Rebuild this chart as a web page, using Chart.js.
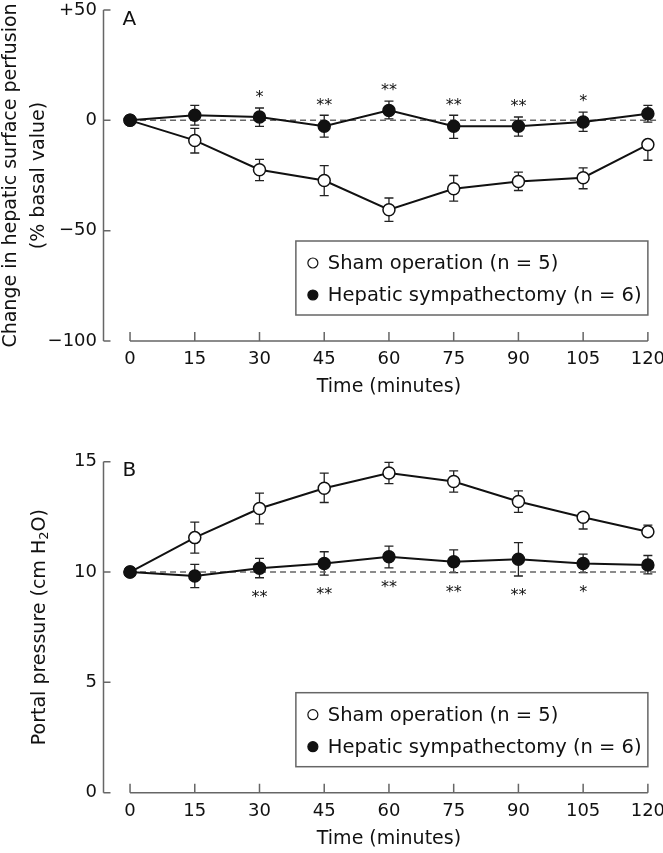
<!DOCTYPE html>
<html>
<head>
<meta charset="utf-8">
<script src="https://cdn.jsdelivr.net/npm/chart.js@4.4.1/dist/chart.umd.min.js"></script>
<style>
  html, body { margin: 0; padding: 0; background: #fff; }
  .panel { position: absolute; left: 0; width: 663px; }
  #wrapA { top: 0; height: 420px; }
  #wrapB { top: 420px; height: 433px; }
</style>
</head>
<body>
<div id="wrapA" class="panel"><canvas id="chartA"></canvas></div>
<div id="wrapB" class="panel"><canvas id="chartB"></canvas></div>
<script>
// time points (minutes)
const times = [0, 15, 30, 45, 60, 75, 90, 105, 120];

// Panel A: change in hepatic surface perfusion (% basal value)
const shamPerfusion         = [0, -9.1, -22.4, -27.3, -40.5, -31.0, -27.7, -26.0, -11.0];
const shamPerfusionErrUp    = [0,  5.5,   4.7,   6.8,   5.3,   6.0,   4.2,   4.5,   0];
const shamPerfusionErrDown  = [0,  5.7,   4.9,   6.8,   5.3,   5.6,   4.1,   5.0,   7.1];
const symPerfusion          = [0,  2.3,   1.5,  -2.7,   4.5,  -2.7,  -2.7,  -0.8,   3.0];
const symPerfusionErrUp     = [0,  4.5,   4.1,   5.0,   4.2,   5.0,   4.2,   4.5,   3.8];
const symPerfusionErrDown   = [0,  4.5,   4.2,   4.9,   3.8,   5.5,   4.5,   4.2,   3.8];
const perfusionStars        = ['', '', '*', '**', '**', '**', '**', '*', ''];
const perfusionTicks        = [-100, -50, 0, 50];
const perfusionTickLabels   = ['\u2212100', '\u221250', '0', '+50'];

// Panel B: portal pressure (cm H2O)
const shamPressure          = [10, 11.56, 12.88, 13.80, 14.49, 14.10, 13.20, 12.48, 11.83];
const shamPressureErrUp     = [0,  0.70,  0.70,  0.68,  0.48,  0.48,  0.48,  0,     0.30];
const shamPressureErrDown   = [0,  0.70,  0.70,  0.65,  0.48,  0.48,  0.50,  0.53,  0];
const symPressure           = [10, 9.82,  10.17, 10.39, 10.69, 10.47, 10.58, 10.39, 10.32];
const symPressureErrUp      = [0,  0.53,  0.45,  0.53,  0.48,  0.53,  0.75,  0.42,  0.43];
const symPressureErrDown    = [0,  0.53,  0.43,  0.53,  0.50,  0.50,  0.76,  0.42,  0.40];
const pressureStars         = ['', '', '**', '**', '**', '**', '**', '*', ''];
const pressureTicks         = [0, 5, 10, 15];
const pressureTickLabels    = ['0', '5', '10', '15'];

const FONT = "'DejaVu Sans', sans-serif";
const AXIS_GREY = '#666';

function pts(values) {
  return times.map((t, i) => ({ x: t, y: values[i] }));
}

// axes, error bars, stars, legend, titles
const decorPlugin = {
  id: 'decor',
  beforeDatasetsDraw(chart, args, opts) {
    const { ctx, chartArea } = chart;
    const x = chart.scales.x, y = chart.scales.y;
    ctx.save();
    ctx.strokeStyle = AXIS_GREY;
    ctx.lineWidth = 1.5;
    // y axis + inward ticks
    ctx.beginPath();
    ctx.moveTo(chartArea.left, y.getPixelForValue(y.max));
    ctx.lineTo(chartArea.left, y.getPixelForValue(y.min));
    opts.yTicks.forEach(v => {
      const py = y.getPixelForValue(v);
      ctx.moveTo(chartArea.left, py);
      ctx.lineTo(chartArea.left + 7, py);
    });
    // x axis + inward ticks
    const by = y.getPixelForValue(y.min);
    ctx.moveTo(x.getPixelForValue(times[0]), by);
    ctx.lineTo(x.getPixelForValue(times[times.length - 1]), by);
    times.forEach(t => {
      const px = x.getPixelForValue(t);
      ctx.moveTo(px, by);
      ctx.lineTo(px, by - 9);
    });
    ctx.stroke();

    // error bars
    ctx.strokeStyle = '#222';
    ctx.lineWidth = 1.3;
    chart.data.datasets.forEach(ds => {
      if (!ds.errUp) return;
      ds.data.forEach((p, i) => {
        const px = x.getPixelForValue(p.x);
        const py = y.getPixelForValue(p.y);
        [[ds.errUp[i], 1], [ds.errDown[i], -1]].forEach(([e, dir]) => {
          if (!e) return;
          const ey = y.getPixelForValue(p.y + dir * e);
          ctx.beginPath();
          ctx.moveTo(px, py);
          ctx.lineTo(px, ey);
          ctx.moveTo(px - 4.5, ey);
          ctx.lineTo(px + 4.5, ey);
          ctx.stroke();
        });
      });
    });
    ctx.restore();
  },
  afterDraw(chart, args, opts) {
    const { ctx, chartArea } = chart;
    const x = chart.scales.x, y = chart.scales.y;
    ctx.save();
    ctx.fillStyle = '#111';

    // significance stars
    const ds = chart.data.datasets[0];
    ctx.font = '16px ' + FONT;
    ctx.textAlign = 'center';
    ctx.textBaseline = 'alphabetic';
    opts.stars.forEach((s, i) => {
      if (!s) return;
      const p = ds.data[i];
      const px = x.getPixelForValue(p.x);
      if (opts.starSide === 'above') {
        const ey = y.getPixelForValue(p.y + ds.errUp[i]);
        ctx.fillText(s, px, ey - 5.7);
      } else {
        const ey = y.getPixelForValue(p.y - ds.errDown[i]);
        ctx.fillText(s, px, ey + 24.3);
      }
    });

    // panel letter
    ctx.font = '20px ' + FONT;
    ctx.textAlign = 'left';
    ctx.textBaseline = 'middle';
    ctx.fillText(opts.letter, chartArea.left + 19, chartArea.top + 9.5);

    // x title
    ctx.font = '19px ' + FONT;
    const bottom = y.getPixelForValue(y.min);
    ctx.textAlign = 'center';
    ctx.fillText('Time (minutes)', x.getPixelForValue(60), bottom + 46);

    // y title (rotated), segments allow a subscript
    const cy = (y.getPixelForValue(y.max) + y.getPixelForValue(y.min)) / 2;
    opts.yTitle.forEach(line => {
      ctx.save();
      ctx.translate(line.x, cy);
      ctx.rotate(-Math.PI / 2);
      ctx.textAlign = 'left';
      ctx.textBaseline = 'middle';
      const segs = line.segs.map(sg => ({ ...sg, font: (sg.sub ? '13px ' : '19px ') + FONT }));
      let total = 0;
      segs.forEach(sg => { ctx.font = sg.font; sg.w = ctx.measureText(sg.t).width; total += sg.w; });
      let cx = -total / 2;
      segs.forEach(sg => {
        ctx.font = sg.font;
        ctx.fillText(sg.t, cx, sg.sub ? 5 : 0);
        cx += sg.w;
      });
      ctx.restore();
    });

    // legend box
    const right = x.getPixelForValue(120);
    const left = right - 352;
    const top = bottom - 26 - 74;
    ctx.strokeStyle = AXIS_GREY;
    ctx.lineWidth = 1.5;
    ctx.strokeRect(left, top, 352, 74);
    const items = [chart.data.datasets[1], chart.data.datasets[0]];
    ctx.font = '19.5px ' + FONT;
    ctx.textAlign = 'left';
    ctx.textBaseline = 'middle';
    items.forEach((d, k) => {
      const ly = top + 22 + k * 32;
      ctx.beginPath();
      ctx.arc(left + 17, ly, 5, 0, Math.PI * 2);
      ctx.fillStyle = d.pointBackgroundColor;
      ctx.fill();
      ctx.strokeStyle = '#111';
      ctx.lineWidth = 1.2;
      ctx.stroke();
      ctx.fillStyle = '#111';
      ctx.fillText(d.label, left + 32, ly + 1);
    });
    ctx.restore();
  }
};

function makeChart(canvasId, cfg) {
  const series = (label, values, up, down, fill) => ({
    label: label,
    data: pts(values),
    errUp: up,
    errDown: down,
    borderColor: '#111',
    borderWidth: 2,
    pointRadius: 6,
    pointHoverRadius: 6,
    pointBorderWidth: 1.5,
    pointBorderColor: '#111',
    pointBackgroundColor: fill,
    tension: 0
  });

  return new Chart(document.getElementById(canvasId), {
    type: 'line',
    data: {
      datasets: [
        series('Hepatic sympathectomy (n = 6)', cfg.sym, cfg.symUp, cfg.symDown, '#111'),
        series('Sham operation (n = 5)', cfg.sham, cfg.shamUp, cfg.shamDown, '#fff'),
        {
          label: 'baseline',
          data: [{ x: 0, y: cfg.baseline }, { x: 122.3, y: cfg.baseline }],
          borderColor: '#666',
          borderWidth: 1.5,
          borderDash: [6, 4],
          pointRadius: 0
        }
      ]
    },
    options: {
      responsive: true,
      maintainAspectRatio: false,
      animation: false,
      events: [],
      layout: {
        autoPadding: false,
        padding: { top: cfg.top, right: 5.2, left: 0, bottom: 0 }
      },
      plugins: {
        legend: { display: false },
        tooltip: { enabled: false },
        decor: {
          letter: cfg.letter,
          yTicks: cfg.yTicks,
          yTitle: cfg.yTitle,
          stars: cfg.stars,
          starSide: cfg.starSide
        }
      },
      scales: {
        x: {
          type: 'linear',
          min: -6.15,
          max: 122.3,
          afterBuildTicks: s => { s.ticks = times.map(v => ({ value: v })); },
          afterFit: s => { s.height = cfg.xHeight; s.paddingLeft = 0; s.paddingRight = 0; },
          grid: { display: false, drawTicks: false },
          border: { display: false },
          ticks: {
            padding: 8,
            color: '#111',
            maxRotation: 0,
            autoSkip: false,
            font: { family: FONT, size: 18 },
            callback: v => String(v)
          }
        },
        y: {
          min: cfg.yMin,
          max: cfg.yMax,
          afterBuildTicks: s => { s.ticks = cfg.yTicks.map(v => ({ value: v })); },
          afterFit: s => { s.width = 103.5; s.paddingTop = 0; s.paddingBottom = 0; },
          grid: { display: false, drawTicks: false },
          border: { display: false },
          ticks: {
            padding: 6.5,
            color: '#111',
            font: { family: FONT, size: 18, lineHeight: 1 },
            callback: v => cfg.yTickLabels[cfg.yTicks.indexOf(v)]
          }
        }
      }
    },
    plugins: [decorPlugin]
  });
}

makeChart('chartA', {
  letter: 'A',
  sham: shamPerfusion, shamUp: shamPerfusionErrUp, shamDown: shamPerfusionErrDown,
  sym: symPerfusion, symUp: symPerfusionErrUp, symDown: symPerfusionErrDown,
  baseline: 0,
  yMin: -100, yMax: 50,
  yTicks: perfusionTicks, yTickLabels: perfusionTickLabels,
  stars: perfusionStars, starSide: 'above',
  top: 10, xHeight: 79,
  yTitle: [
    { x: 11, segs: [{ t: 'Change in hepatic surface perfusion' }] },
    { x: 39, segs: [{ t: '(% basal value)' }] }
  ]
});

makeChart('chartB', {
  letter: 'B',
  sham: shamPressure, shamUp: shamPressureErrUp, shamDown: shamPressureErrDown,
  sym: symPressure, symUp: symPressureErrUp, symDown: symPressureErrDown,
  baseline: 10,
  yMin: 0, yMax: 15,
  yTicks: pressureTicks, yTickLabels: pressureTickLabels,
  stars: pressureStars, starSide: 'below',
  top: 41.7, xHeight: 60.3,
  yTitle: [
    { x: 40, segs: [{ t: 'Portal pressure (cm H' }, { t: '2', sub: true }, { t: 'O)' }] }
  ]
});
</script>
</body>
</html>
